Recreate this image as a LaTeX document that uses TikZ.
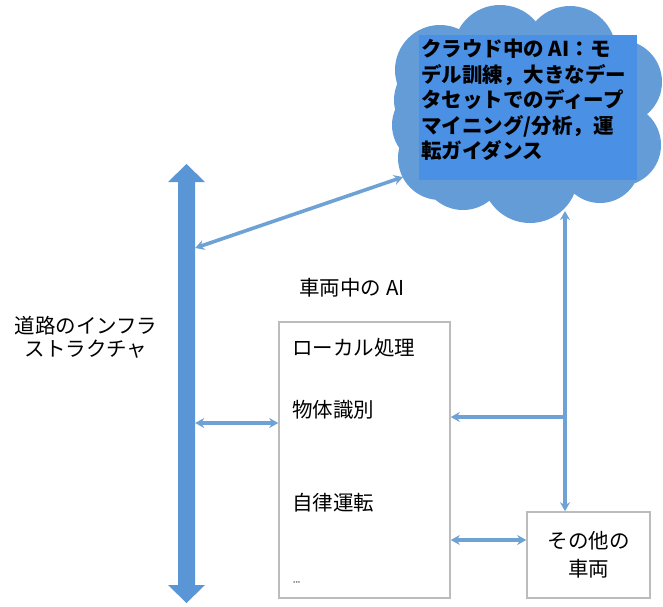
\documentclass[tikz,border=0pt]{standalone}
\usepackage{fontspec}
\setmainfont{Noto Sans CJK JP}
\usetikzlibrary{arrows.meta}
\definecolor{cloudc}{RGB}{100,156,216}
\definecolor{rectc}{RGB}{74,144,228}
\definecolor{linec}{RGB}{110,161,212}
\definecolor{bigc}{RGB}{90,150,214}
\definecolor{boxc}{RGB}{188,188,188}
\begin{document}
\begin{tikzpicture}[x=1pt,y=-1pt,
  >={Stealth[length=9pt,width=10pt]},
  conn/.style={draw=linec, line width=3.6pt},
  box/.style={draw=boxc, line width=1.6pt, fill=white, inner sep=0},
  jp/.style={font=\fontsize{20.5}{24}\selectfont, inner sep=0},
]
\useasboundingbox (0,0) rectangle (663,606);
% cloud (union of puffs)
\fill[cloudc]
  (527,115) circle[radius=90]
  (440,70) circle[radius=45]
  (500,52) circle[radius=47]
  (570,52) circle[radius=46]
  (620,82) circle[radius=42]
  (620,145) circle[radius=41]
  (600,163) circle[radius=40]
  (530,175) circle[radius=48]
  (463,168) circle[radius=42]
  (440,158) circle[radius=42]
  (432,125) circle[radius=40]
  (436,100) circle[radius=42];
\node[fill=rectc, minimum width=218pt, minimum height=145pt, inner sep=0, anchor=north west] (crect) at (419,35) {};
\node[anchor=north west, inner sep=0, align=left, font=\bfseries\fontsize{20.5}{25.5}\selectfont] (ctext) at (421,39)
  {クラウド中の \textbf{AI}：モ\\デル訓練，大きなデー\\タセットでのディープ\\マイニング/分析，運\\転ガイダンス};
% road infrastructure arrow
\fill[bigc] (186.5,164) -- (205,182) -- (195,182) -- (195,585) -- (205,585) -- (186.5,603)
  -- (168,585) -- (178,585) -- (178,182) -- (168,182) -- cycle;
\node[minimum width=17pt, minimum height=403pt, inner sep=0] (road) at (186.5,383.5) {};
\node[jp, align=center, font=\fontsize{20.5}{23}\selectfont] (roadlbl) at (86,337) {道路のインフラ\\ストラクチャ};
% vehicle
\node[jp] (vehtitle) at (352,288) {車両中の AI};
\node[box, minimum width=171pt, minimum height=276pt] (veh) at (364.5,460) {};
\node[jp, anchor=west] (local) at (292,348) {ローカル処理};
\node[jp, anchor=west] (obj) at (292,410) {物体識別};
\node[jp, anchor=west] (auto) at (292,503) {自律運転};
\node[inner sep=0, font=\fontsize{7}{7}\selectfont, text=gray, anchor=west] (dots) at (293,583) {•••};
% other vehicles
\node[box, minimum width=123pt, minimum height=86pt, align=center, font=\fontsize{20.5}{28}\selectfont] (other) at (588.5,555) {その他の\\車両};
% connectors
\coordinate (cA) at (403,177);
\coordinate (cB) at (565,211);
\draw[conn,<->] (road.east |- 0,248) -- (cA);
\draw[conn,<->] (road.east |- 0,423) -- (veh.west |- 0,423);
\draw[conn,<->] (cB) -- (cB |- other.north);
\coordinate (j) at (cB |- 0,417);
\draw[conn,->] (j) -- (veh.east |- j);
\draw[conn,<->] (veh.east |- 0,540) -- (other.west |- 0,540);
\end{tikzpicture}
\end{document}
